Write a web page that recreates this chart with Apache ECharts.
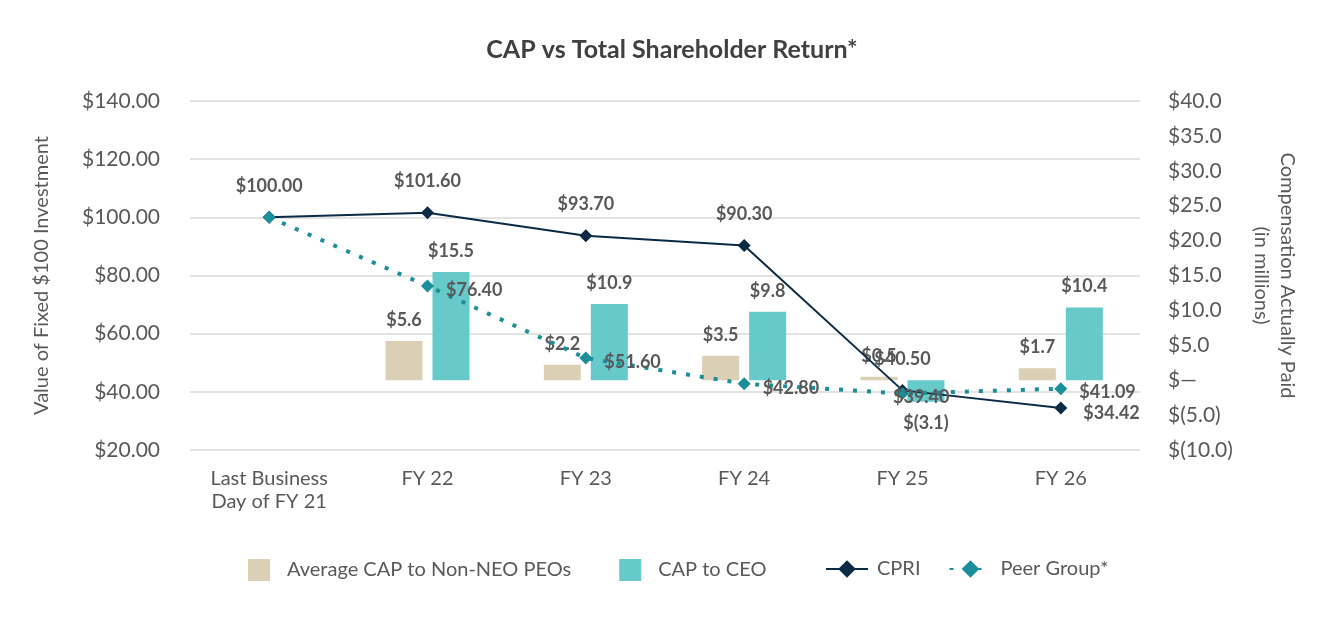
<!DOCTYPE html>
<html>
<head>
<meta charset="utf-8">
<script src="https://cdn.jsdelivr.net/npm/echarts@6/dist/echarts.min.js"></script>
<style>
  html, body { margin: 0; padding: 0; background: #fff; }
  #chart { width: 1344px; height: 624px; }
</style>
</head>
<body>
<div id="chart"></div>
<script>
// values
const categories = ['Last Business\nDay of FY 21', 'FY 22', 'FY 23', 'FY 24', 'FY 25', 'FY 26'];
const nonNeoCap = [null, 5.6, 2.2, 3.5, 0.5, 1.7];
const ceoCap = [null, 15.5, 10.9, 9.8, -3.1, 10.4];
const cpri = [100.00, 101.60, 93.70, 90.30, 40.50, 34.42];
const peerGroup = [100.00, 76.40, 51.60, 42.80, 39.40, 41.09];

const FONT = 'Lato, "Noto Sans", sans-serif';
const TXT = '#595959';

const money2 = v => '$' + v.toFixed(2);
const millions = v => {
    if (v === 0) return '$\u2014';
    if (v < 0) return '$(' + Math.abs(v).toFixed(1) + ')';
    return '$' + v.toFixed(1);
};

const labelBase = {
    show: true,
    color: TXT,
    fontFamily: FONT,
    fontWeight: 'bold',
    fontSize: 18
};

const chart = echarts.init(document.getElementById('chart'));

// CPRI: labels above, last one to the right
const cpriData = cpri.map((v, i) => {
    if (i === cpri.length - 1) {
        return { value: v, label: { position: 'right', distance: 16, offset: [0, 5] } };
    }
    return { value: v };
});

// peer group: labels to the right, first one hidden (shared with CPRI)
const peerData = peerGroup.map((v, i) => {
    if (i === 0) return { value: v, label: { show: false } };
    if (i === 4) return { value: v, label: { position: 'right', distance: -16, offset: [0, 4] } };
    return { value: v, label: { offset: [0, 4] } };
});

const ceoData = ceoCap.map(v => (v !== null && v < 0)
    ? { value: v, label: { position: 'bottom', distance: 12 } }
    : v);

const option = {
    backgroundColor: '#fff',
    textStyle: { fontFamily: FONT },
    title: {
        text: 'CAP vs Total Shareholder Return*',
        left: 'center',
        top: 32,
        textStyle: { color: '#404040', fontSize: 25, fontWeight: 'bold', fontFamily: FONT }
    },
    legend: [
        {
            data: ['Average CAP to Non-NEO PEOs', 'CAP to CEO'],
            left: 243,
            top: 554,
            itemWidth: 22,
            itemHeight: 22,
            itemGap: 48,
            icon: 'rect',
            textStyle: { color: TXT, fontSize: 20, fontFamily: FONT, padding: [0, 0, 0, 12] }
        },
        {
            data: ['CPRI', 'Peer Group*'],
            left: 820,
            top: 554,
            itemWidth: 42,
            itemHeight: 22,
            itemGap: 28,
            textStyle: { color: TXT, fontSize: 20, fontFamily: FONT, padding: [0, 0, 0, 4] }
        }
    ],
    grid: { left: 190, right: 204, top: 101, bottom: 174 },
    xAxis: {
        type: 'category',
        data: categories,
        axisLine: { show: false },
        axisTick: { show: false },
        axisLabel: { color: TXT, fontSize: 20, fontFamily: FONT, margin: 17, lineHeight: 23 }
    },
    yAxis: [
        {
            type: 'value',
            min: 20,
            max: 140,
            interval: 20,
            name: 'Value of Fixed $100 Investment',
            nameLocation: 'middle',
            nameGap: 138,
            nameTextStyle: { color: TXT, fontSize: 20, fontFamily: FONT },
            axisLine: { show: false },
            axisTick: { show: false },
            axisLabel: { color: TXT, fontSize: 21, fontFamily: FONT, margin: 30, formatter: money2 },
            splitLine: { lineStyle: { color: '#e3e3e3', width: 2 } }
        },
        {
            type: 'value',
            min: -10,
            max: 40,
            interval: 5,
            name: 'Compensation Actually Paid\n(in millions)',
            nameLocation: 'middle',
            nameRotate: -90,
            nameGap: 108,
            nameTextStyle: { color: TXT, fontSize: 20, fontFamily: FONT, lineHeight: 26 },
            axisLine: { show: false },
            axisTick: { show: false },
            axisLabel: { color: TXT, fontSize: 21, fontFamily: FONT, margin: 28, align: 'left', formatter: millions },
            splitLine: { show: false }
        }
    ],
    series: [
        {
            name: 'Average CAP to Non-NEO PEOs',
            type: 'bar',
            yAxisIndex: 1,
            data: nonNeoCap,
            barWidth: 37,
            barGap: '27%',
            itemStyle: { color: '#dbcfb6' },
            label: Object.assign({}, labelBase, { position: 'top', distance: 12, formatter: p => millions(p.value) }),
            z: 2
        },
        {
            name: 'CAP to CEO',
            type: 'bar',
            yAxisIndex: 1,
            data: ceoData,
            barWidth: 37,
            itemStyle: { color: '#66c9ca' },
            label: Object.assign({}, labelBase, { position: 'top', distance: 12, formatter: p => millions(p.value) }),
            z: 2
        },
        {
            name: 'CPRI',
            type: 'line',
            yAxisIndex: 0,
            data: cpriData,
            symbol: 'diamond',
            symbolSize: 13,
            lineStyle: { color: '#0b2a45', width: 2 },
            itemStyle: { color: '#0b2a45' },
            label: Object.assign({}, labelBase, { position: 'top', distance: 16, formatter: p => money2(p.value) }),
            z: 4
        },
        {
            name: 'Peer Group*',
            type: 'line',
            yAxisIndex: 0,
            data: peerData,
            symbol: 'diamond',
            symbolSize: 13,
            lineStyle: { color: '#1a8f9a', width: 4, type: [4, 10] },
            itemStyle: { color: '#1a8f9a' },
            label: Object.assign({}, labelBase, { position: 'right', distance: 12, formatter: p => money2(p.value) }),
            z: 5
        }
    ]
};

chart.setOption(option);
</script>
</body>
</html>
